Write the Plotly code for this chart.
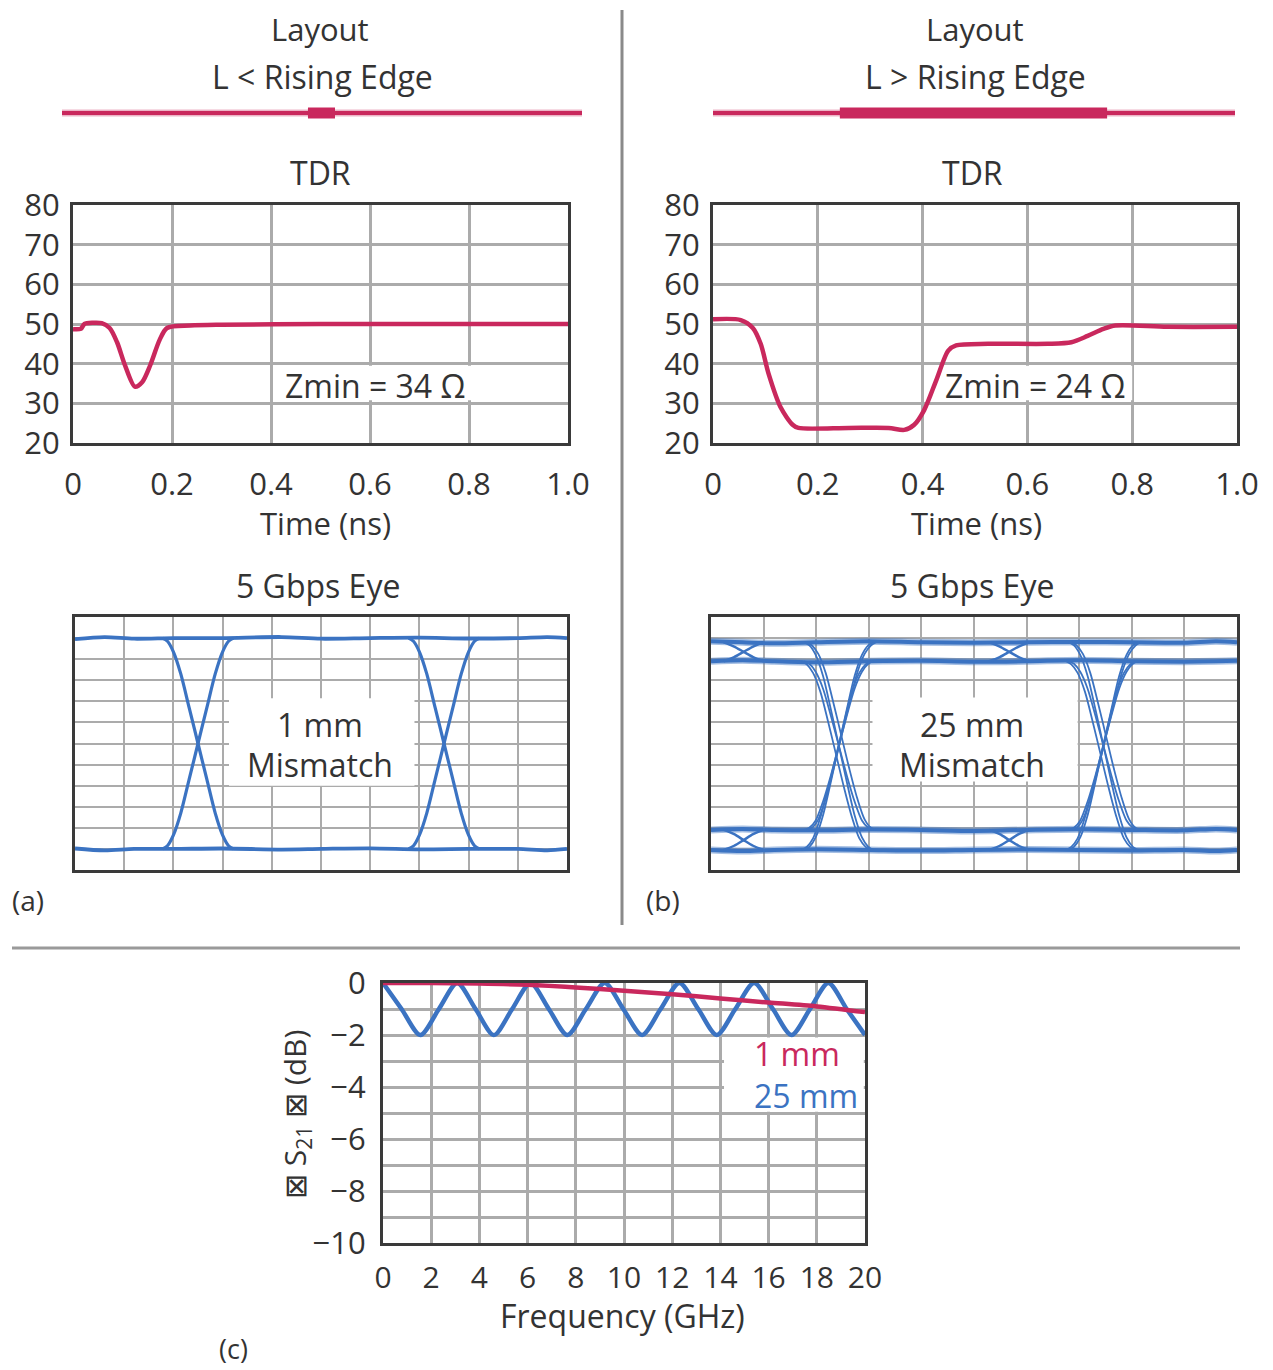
import plotly.graph_objects as go

W, H = 1273, 1370          # browser window
OFF = 8                    # default page margin around the plot div
FW, FH = W - OFF, H - OFF  # figure size so that it fits exactly in the window
PINK = "#c9285d"
BLUE = "#3b73c2"
TXT = "#333333"
GRID = "#ababab"
FRAME = "#3a3a3a"
FONT = "Open Sans"

# ---------------- data ----------------
# TDR, 1 mm mismatch (Ohm vs ns)
TDR_T_1MM = [0, 0.016, 0.023, 0.04, 0.058, 0.074, 0.089, 0.105, 0.125, 0.14, 0.156, 0.175, 0.19, 0.237, 0.3, 0.5, 0.7, 0.9, 1.0]
TDR_Z_1MM = [48.7, 48.8, 50.0, 50.3, 50.2, 49.0, 45.4, 39.6, 34.2, 35.4, 39.6, 46.0, 49.0, 49.6, 49.8, 50.0, 50.0, 50.0, 50.0]
# TDR, 25 mm mismatch
TDR_T_25MM = [0, 0.053, 0.076, 0.091, 0.106, 0.129, 0.152, 0.163, 0.259, 0.335, 0.365, 0.384, 0.403, 0.426,
              0.449, 0.464, 0.525, 0.639, 0.684, 0.715, 0.745, 0.768, 0.867, 1.0]
TDR_Z_25MM = [51.2, 51.0, 49.0, 45.0, 37.5, 29.0, 24.6, 23.8, 23.8, 23.8, 23.3, 24.6, 28.3, 35.8,
              43.3, 44.6, 45.0, 45.0, 45.4, 47.0, 48.75, 49.6, 49.3, 49.3]
TDR_XTICKS = [0, 0.2, 0.4, 0.6, 0.8, 1.0]
TDR_XTEXT = ["0", "0.2", "0.4", "0.6", "0.8", "1.0"]
TDR_YTICKS = [20, 30, 40, 50, 60, 70, 80]
ZMIN_1MM = "Zmin = 34 Ω"
ZMIN_25MM = "Zmin = 24 Ω"

# Layout sketch: position of the wide section along the line (fraction of length)
LAYOUT_LINE = [0, 1]
LAYOUT_SEG_A = [0.473, 0.525]
LAYOUT_SEG_B = [0.243, 0.755]

# Eye diagrams (screen divisions: 10 x 12)
EYE_A_CROSS = [2.5, 7.5]
EYE_A_DX = [-0.72, -0.62, -0.5, -0.35, -0.18, 0, 0.18, 0.35, 0.5, 0.62, 0.72]
EYE_A_FALL = [11.0, 10.85, 10.35, 9.3, 7.7, 6.0, 4.3, 2.7, 1.65, 1.15, 1.0]
EYE_A_RISE = [1.0, 1.15, 1.65, 2.7, 4.3, 6.0, 7.7, 9.3, 10.35, 10.85, 11.0]
EYE_A_RAIL_X = [0, 0.6, 1.2, 2.0, 3.0, 4.2, 5.0, 6.0, 7.0, 8.0, 9.0, 9.6, 10]
EYE_A_TOP = [10.95, 11.05, 10.97, 11.0, 11.0, 11.05, 10.97, 11.0, 11.02, 10.98, 11.0, 11.05, 11.0]
EYE_A_BOT = [1.02, 0.93, 1.0, 1.0, 1.02, 0.97, 1.0, 1.03, 0.98, 1.0, 1.0, 0.93, 1.0]

EYE_B_CROSS = [2.43, 7.46]
EYE_B_DX = [-0.66, -0.56, -0.44, -0.3, -0.15, 0, 0.15, 0.3, 0.44, 0.56, 0.66]
EYE_B_SHIFT = [0.0, 0.05, -0.05, 0.0]
EYE_B_FALLS = [
    [10.8, 10.65, 10.2, 9.2, 7.6, 5.9, 4.2, 2.6, 1.55, 1.1, 0.95],
    [10.8, 10.65, 10.25, 9.35, 7.9, 6.35, 4.8, 3.4, 2.4, 2.0, 1.9],
    [9.9, 9.75, 9.35, 8.45, 7.0, 5.45, 3.9, 2.5, 1.5, 1.1, 0.95],
    [9.9, 9.78, 9.4, 8.6, 7.3, 5.9, 4.5, 3.25, 2.35, 2.0, 1.9],
]
EYE_B_RISES = [
    [0.95, 1.1, 1.55, 2.6, 4.2, 5.9, 7.6, 9.2, 10.2, 10.65, 10.8],
    [1.9, 2.0, 2.4, 3.4, 4.8, 6.35, 7.9, 9.35, 10.25, 10.65, 10.8],
    [0.95, 1.1, 1.5, 2.5, 3.9, 5.45, 7.0, 8.45, 9.35, 9.75, 9.9],
    [1.9, 2.0, 2.35, 3.25, 4.5, 5.9, 7.3, 8.6, 9.4, 9.78, 9.9],
]
EYE_B_RAIL_X = [0, 0.6, 1.2, 2.0, 3.0, 4.0, 5.0, 6.0, 7.0, 8.0, 9.0, 9.6, 10]
EYE_B_RAILS = [
    [10.85, 10.8, 10.75, 10.8, 10.85, 10.8, 10.78, 10.8, 10.82, 10.8, 10.78, 10.85, 10.8],
    [9.9, 9.95, 9.9, 9.85, 9.9, 9.92, 9.88, 9.9, 9.95, 9.9, 9.88, 9.9, 9.92],
    [1.9, 1.95, 1.9, 1.88, 1.92, 1.9, 1.85, 1.9, 1.93, 1.9, 1.88, 1.95, 1.9],
    [0.95, 0.9, 0.95, 0.98, 0.95, 0.92, 0.95, 0.97, 0.95, 0.93, 0.95, 0.9, 0.95],
]
# small rail crossings (ringing) between the two levels of each band
EYE_B_RING_CENTERS = [0.62, 5.67]
EYE_B_RING_DX = [-0.38, -0.18, 0, 0.18, 0.38]
EYE_B_RING_TOP_DN = [10.8, 10.6, 10.35, 10.1, 9.9]
EYE_B_RING_TOP_UP = [9.9, 10.1, 10.35, 10.6, 10.8]
EYE_B_RING_BOT_DN = [1.9, 1.7, 1.42, 1.15, 0.95]
EYE_B_RING_BOT_UP = [0.95, 1.15, 1.42, 1.7, 1.9]

# |S21| (dB) vs frequency (GHz)
S21_F_25MM = [0, 0.77, 1.55, 2.32, 3.08, 3.84, 4.6, 5.36, 6.12, 6.88, 7.65, 8.42, 9.2, 9.97, 10.75,
              11.52, 12.3, 13.08, 13.85, 14.62, 15.4, 16.18, 16.95, 17.72, 18.48, 19.24, 20.0]
S21_DB_25MM = [0, -1, -2, -1, 0, -1, -2, -1, 0, -1, -2, -1, 0, -1, -2,
               -1, 0, -1, -2, -1, 0, -1, -2, -1, 0, -1, -2]
S21_F_1MM = [0, 2, 4, 6, 8, 10, 12, 14, 16, 18, 20]
S21_DB_1MM = [0, 0, -0.02, -0.07, -0.17, -0.3, -0.43, -0.6, -0.75, -0.9, -1.12]
S21_XTICKS = [0, 2, 4, 6, 8, 10, 12, 14, 16, 18, 20]
S21_YTICKS = [-10, -8, -6, -4, -2, 0]


# ---------------- helpers (window pixels -> paper fractions) ----------------
def px(x):
    return (x - OFF) / FW


def py(y):
    return 1 - (y - OFF) / FH


def dx(a, b):
    return [px(a), px(b)]


def dy(top, bottom):
    return [py(bottom), py(top)]


fig = go.Figure()


def line(x, y, xa, ya, color, width, spline=False):
    fig.add_trace(go.Scatter(
        x=x, y=y, mode="lines", xaxis=xa, yaxis=ya, showlegend=False, hoverinfo="skip",
        line=dict(color=color, width=width, shape="spline" if spline else "linear", smoothing=0.8)))


# layout sketches
for xa, ya, seg in (("x6", "y6", LAYOUT_SEG_A), ("x7", "y7", LAYOUT_SEG_B)):
    line(LAYOUT_LINE, [0.5, 0.5], xa, ya, "rgba(201,40,93,0.35)", 7)
    line(LAYOUT_LINE, [0.5, 0.5], xa, ya, PINK, 4)
    line(seg, [0.5, 0.5], xa, ya, PINK, 11)

# TDR
line(TDR_T_1MM, TDR_Z_1MM, "x", "y", PINK, 4.5, spline=True)
line(TDR_T_25MM, TDR_Z_25MM, "x2", "y2", PINK, 4.5, spline=True)

# Eye A
line(EYE_A_RAIL_X, EYE_A_TOP, "x3", "y3", BLUE, 3.8, spline=True)
line(EYE_A_RAIL_X, EYE_A_BOT, "x3", "y3", BLUE, 3.8, spline=True)
for c in EYE_A_CROSS:
    xs = [c + d for d in EYE_A_DX]
    line(xs, EYE_A_FALL, "x3", "y3", BLUE, 3.2, spline=True)
    line(xs, EYE_A_RISE, "x3", "y3", BLUE, 3.2, spline=True)

# Eye B
for r in EYE_B_RAILS:
    line(EYE_B_RAIL_X, r, "x4", "y4", "rgba(59,115,194,0.45)", 7, spline=True)
    line(EYE_B_RAIL_X, r, "x4", "y4", BLUE, 4, spline=True)
for c in EYE_B_RING_CENTERS:
    xs = [c + d for d in EYE_B_RING_DX]
    for yy in (EYE_B_RING_TOP_DN, EYE_B_RING_TOP_UP, EYE_B_RING_BOT_DN, EYE_B_RING_BOT_UP):
        line(xs, yy, "x4", "y4", BLUE, 2.5, spline=True)
for c in EYE_B_CROSS:
    for s, fy, ry in zip(EYE_B_SHIFT, EYE_B_FALLS, EYE_B_RISES):
        xs = [c + s + d for d in EYE_B_DX]
        line(xs, fy, "x4", "y4", BLUE, 1.8, spline=True)
        line(xs, ry, "x4", "y4", BLUE, 1.8, spline=True)

# S21
line(S21_F_25MM, S21_DB_25MM, "x5", "y5", BLUE, 4.5, spline=True)
line(S21_F_1MM, S21_DB_1MM, "x5", "y5", PINK, 4.5, spline=True)

# ---------------- axes ----------------
tickfont = dict(family=FONT, size=31, color=TXT)
frame = dict(showline=True, mirror=True, linecolor=FRAME, linewidth=3, showgrid=True,
             gridcolor=GRID, gridwidth=2.5, zeroline=False, ticks="", fixedrange=True,
             tickfont=tickfont)

lay = dict(
    width=FW, height=FH, autosize=False,
    margin=dict(l=0, r=0, t=0, b=0, pad=0, autoexpand=False),
    paper_bgcolor="white", plot_bgcolor="white", showlegend=False,
    font=dict(family=FONT, color=TXT),
)
# TDR axes
lay["xaxis"] = dict(frame, domain=dx(73, 568), range=[0, 1], tickvals=TDR_XTICKS, ticktext=TDR_XTEXT,
                    anchor="y", ticklabelstandoff=12)
lay["yaxis"] = dict(frame, domain=dy(205, 443), range=[20, 80], tickvals=TDR_YTICKS, anchor="x",
                    ticklabelstandoff=4)
lay["xaxis2"] = dict(frame, domain=dx(713, 1237), range=[0, 1], tickvals=TDR_XTICKS, ticktext=TDR_XTEXT,
                     anchor="y2", ticklabelstandoff=12)
lay["yaxis2"] = dict(frame, domain=dy(205, 443), range=[20, 80], tickvals=TDR_YTICKS, anchor="x2",
                     ticklabelstandoff=4)
# eye axes
eye = dict(frame, gridwidth=2, showticklabels=False, dtick=1, tick0=0)
lay["xaxis3"] = dict(eye, domain=dx(75, 567), range=[0, 10], anchor="y3")
lay["yaxis3"] = dict(eye, domain=dy(617, 870), range=[0, 12], anchor="x3")
lay["xaxis4"] = dict(eye, domain=dx(711, 1237), range=[0, 10], anchor="y4")
lay["yaxis4"] = dict(eye, domain=dy(617, 870), range=[0, 12], anchor="x4")
# S21 axes
lay["xaxis5"] = dict(frame, domain=dx(383, 865), range=[0, 20], tickvals=S21_XTICKS, anchor="y5",
                     ticklabelstandoff=6, tickfont=dict(family=FONT, size=30, color=TXT))
lay["yaxis5"] = dict(frame, domain=dy(983, 1243), range=[-10, 0], tickvals=S21_YTICKS, anchor="x5",
                     ticklabelstandoff=8,
                     minor=dict(dtick=1, tick0=0, showgrid=True, gridcolor=GRID, gridwidth=2.5))
# layout sketch axes
hidden = dict(visible=False, fixedrange=True, range=[0, 1])
lay["xaxis6"] = dict(hidden, domain=dx(62, 582), anchor="y6")
lay["yaxis6"] = dict(hidden, domain=dy(98, 128), anchor="x6")
lay["xaxis7"] = dict(hidden, domain=dx(713, 1235), anchor="y7")
lay["yaxis7"] = dict(hidden, domain=dy(98, 128), anchor="x7")
fig.update_layout(**lay)

# ---------------- white label boxes & dividers ----------------
shapes = [
    dict(type="rect", xref="x", yref="y", x0=0.405, x1=0.81, y0=30.8, y1=39.5),
    dict(type="rect", xref="x2", yref="y2", x0=0.428, x1=0.80, y0=30.8, y1=39.5),
    dict(type="rect", xref="x3", yref="y3", x0=3.13, x1=6.9, y0=4.0, y1=8.15),
    dict(type="rect", xref="x4", yref="y4", x0=3.07, x1=6.97, y0=4.2, y1=8.18),
    dict(type="rect", xref="x5", yref="y5", x0=14.15, x1=19.95, y0=-4.95, y1=-2.1),
]
for s in shapes:
    s.update(fillcolor="white", line=dict(width=0), layer="between")
    fig.add_shape(**s)
fig.add_shape(type="line", xref="paper", yref="paper", x0=px(622), x1=px(622), y0=py(10), y1=py(925),
              line=dict(color="#8a8a8a", width=3))
fig.add_shape(type="line", xref="paper", yref="paper", x0=px(12), x1=px(1240), y0=py(948), y1=py(948),
              line=dict(color="#9a9a9a", width=3))


# ---------------- text ----------------
def text(t, x, y, size=32, color=TXT, angle=0, xanchor="center"):
    fig.add_annotation(text=t, x=px(x), y=py(y), xref="paper", yref="paper", showarrow=False,
                       xanchor=xanchor, yanchor="middle", textangle=angle,
                       font=dict(family=FONT, size=size, color=color))


text("Layout", 320, 29, size=31)
text("L &lt; Rising Edge", 322, 77)
text("TDR", 320, 173)
text("Time (ns)", 325, 523, size=31)
text("5 Gbps Eye", 318, 585)
text("Layout", 975, 29, size=31)
text("L &gt; Rising Edge", 975, 77)
text("TDR", 972, 173)
text("Time (ns)", 976, 523, size=31)
text("5 Gbps Eye", 972, 585)

text(ZMIN_1MM, 375, 385)
text(ZMIN_25MM, 1035, 385)
text("1 mm", 320, 724)
text("Mismatch", 320, 764)
text("25 mm", 972, 724)
text("Mismatch", 972, 764)

text("1 mm", 752, 1053, color=PINK, xanchor="left")
text("25 mm", 752, 1095, color=BLUE, xanchor="left")
text("Frequency (GHz)", 622, 1315)
text("⊠ S<sub>21</sub> ⊠ (dB)", 296, 1115, size=30, angle=-90)

text("(a)", 28, 900, size=28)
text("(b)", 663, 900, size=28)
text("(c)", 233, 1348, size=27)

fig.write_html("out.html")
